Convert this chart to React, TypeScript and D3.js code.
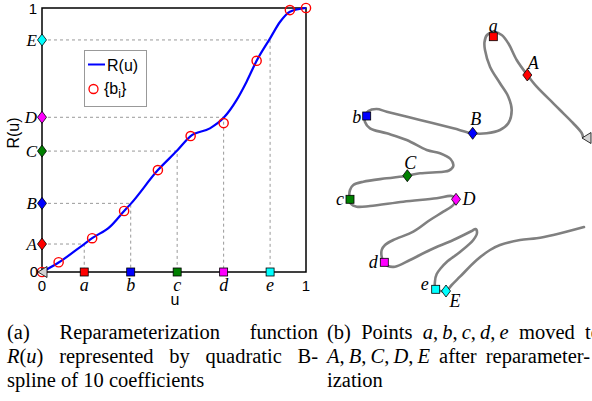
import React, { useLayoutEffect, useRef } from 'react';
import * as d3 from 'd3';

// ---- Left panel data: R(u) ----
const curveU = [0, 0.063, 0.16, 0.19, 0.258, 0.311, 0.336, 0.439, 0.512, 0.563, 0.636, 0.688, 0.7375, 0.775, 0.813, 0.864, 0.902, 0.939, 1];
const curveR = [0, 0.036, 0.106, 0.128, 0.172, 0.231, 0.258, 0.386, 0.46, 0.515, 0.544, 0.584, 0.652, 0.721, 0.8, 0.885, 0.948, 0.986, 1];
const coefU = [0, 0.063, 0.19, 0.311, 0.439, 0.563, 0.688, 0.813, 0.939, 1];
const coefR = [0, 0.037, 0.128, 0.231, 0.386, 0.515, 0.564, 0.8, 0.992, 1];
const lowerLabels = ['a', 'b', 'c', 'd', 'e'];
const upperLabels = ['A', 'B', 'C', 'D', 'E'];
const markU = [0.16, 0.336, 0.512, 0.688, 0.864];
const markR = [0.106, 0.26, 0.458, 0.586, 0.879];
const tickLabels = ['0', '1'];

// ---- Right panel data: curve in plane (x offset coords, y) ----
const pathX = [263, 261.7, 253, 240, 233.3, 216.7, 207.3, 196.7, 188.3, 181.7, 174, 167, 164.5, 165, 170, 180, 188.3, 191.7, 188.3, 180, 166.7, 152.7, 133.3, 100, 66.7, 56.7, 48.3, 45, 45, 50, 66.7, 86.7, 106.7, 120, 130.5, 133.3, 129, 123.3, 100, 87.3, 66.7, 43.3, 33.3, 30, 29.5, 31, 36.7, 50, 83.3, 116.7, 131.7, 136, 133.3, 123.3, 110, 93.3, 73.3, 65, 61.7, 62, 64.3, 68, 75, 90, 110, 133.3, 151.7, 155.5, 157, 153.3, 140, 126.7, 121, 116.7, 115, 115.7, 126, 131.7, 140, 156.7, 170, 180, 200, 216.7, 233.3, 264];
const pathY = [137, 133, 123, 110, 103.3, 86.7, 75, 60, 43.3, 35, 32, 35, 42, 50, 66.7, 83.3, 96.7, 110, 123.3, 130, 133.3, 133.3, 128.3, 120, 111.7, 109, 111, 116, 122, 128.3, 133.3, 140, 150, 153.3, 159, 166, 170.5, 171.7, 173.3, 175.7, 178.3, 181.7, 185, 190, 199.3, 204, 206.7, 206, 201.7, 198.3, 196, 199.3, 205, 211.7, 220, 231.7, 240, 245, 250, 258, 262.3, 266, 266.7, 260, 250, 240, 231, 229, 233, 240, 252, 262, 268, 274, 281, 289, 291, 285, 276.7, 260, 250, 245, 240, 238.3, 235, 227];
const lowerX = [173.3, 46.7, 30, 64.3, 115.7];
const lowerY = [36.7, 116, 199.3, 262.3, 289.3];
const upperX = [207.3, 152.7, 87.3, 136, 126];
const upperY = [75, 133.3, 175.7, 199.3, 291];

const colors = ['#ff0000', '#0000ff', '#008000', '#ff00ff', '#00ffff'];
const lowerOff = [[0, -5], [-10, 7], [-10, 6], [-11, 6], [-11, 1]];
const upperOff = [[6, -6], [3, -8], [3, -7], [13, 6], [9, 16]];

const SERIF = '"Liberation Serif", "Times New Roman", serif';
const SANS = '"Liberation Sans", Arial, sans-serif';

type Seg = [string, boolean];
type Word = Seg[];

function JustLine({ x, y, width, words, justify, size }: { x: number; y: number; width: number; words: Word[]; justify: boolean; size: number }) {
  const ref = useRef<SVGGElement>(null);
  useLayoutEffect(() => {
    const g = ref.current;
    if (!g) return;
    const texts = Array.from(g.querySelectorAll('text')) as SVGTextElement[];
    const widths = texts.map((t) => t.getComputedTextLength());
    const total = widths.reduce((a, b) => a + b, 0);
    const gap = justify && texts.length > 1 ? (width - total) / (texts.length - 1) : size * 0.25;
    let cx = x;
    texts.forEach((t, i) => {
      t.setAttribute('x', String(cx));
      cx += widths[i] + gap;
    });
  }, []);
  return (
    <g ref={ref}>
      {words.map((w, i) => (
        <text key={i} x={x} y={y} fontFamily={SERIF} fontSize={size} fill="#000">
          {w.map((s, j) => (
            <tspan key={j} fontStyle={s[1] ? 'italic' : 'normal'}>{s[0]}</tspan>
          ))}
        </text>
      ))}
    </g>
  );
}

const n = (t: string): Word => [[t, false]];
const capSize = 20.5;
const leftLines: { words: Word[]; justify: boolean; width: number }[] = [
  { words: [n('(a)'), n('Reparameterization'), n('function')], justify: true, width: 311 },
  { words: [[['R', true], ['(', false], ['u', true], [')', false]], n('represented'), n('by'), n('quadratic'), n('B-')], justify: true, width: 311 },
  { words: [n('spline'), n('of'), n('10'), n('coefficients')], justify: false, width: 311 },
];
const rightLines: { words: Word[]; justify: boolean; width: number }[] = [
  { words: [n('(b)'), n('Points'), [['a', true], [',\u2009', false], ['b', true], [',\u2009', false], ['c', true], [',\u2009', false], ['d', true], [',\u2009', false], ['e', true]], n('moved'), n('to')], justify: true, width: 274 },
  { words: [[['A', true], [',\u2009', false], ['B', true], [',\u2009', false], ['C', true], [',\u2009', false], ['D', true], [',\u2009', false], ['E', true]], n('after'), n('reparameter-')], justify: true, width: 263 },
  { words: [n('ization')], justify: false, width: 263 },
];

function diamond(cx: number, cy: number, w = 9, h = 12) {
  return `M${cx},${cy - h / 2}L${cx + w / 2},${cy}L${cx},${cy + h / 2}L${cx - w / 2},${cy}Z`;
}
function triLeft(tipX: number, cy: number, w = 9, h = 11) {
  return `M${tipX},${cy}L${tipX + w},${cy - h / 2}L${tipX + w},${cy + h / 2}Z`;
}

export default function App() {
  const xL = d3.scaleLinear().domain([0, 1]).range([42, 306]);
  const yL = d3.scaleLinear().domain([0, 1]).range([272, 8]);
  const xR = d3.scaleLinear().domain([0, 272]).range([320, 592]);
  const yR = d3.scaleLinear().domain([0, 401]).range([0, 401]);

  const curvePts = curveU.map((u, i) => [u, curveR[i]] as [number, number]);
  const lineL = d3.line<[number, number]>().x((d) => xL(d[0])).y((d) => yL(d[1])).curve(d3.curveMonotoneX);
  const pathPts = pathX.map((x, i) => [x, pathY[i]] as [number, number]);
  const lineR = d3.line<[number, number]>().x((d) => xR(d[0])).y((d) => yR(d[1])).curve(d3.curveCatmullRom.alpha(0.5));

  return (
    <svg width={592} height={401} style={{ position: 'absolute', left: 0, top: 0, background: '#fff' }}>
      <rect x={0} y={0} width={592} height={401} fill="#fff" />
      {/* guide lines */}
      {markU.map((u, i) => (
        <path key={i} d={`M${xL(0)},${yL(markR[i])}H${xL(u)}V${yL(0)}`} fill="none" stroke="#999" strokeWidth={1} strokeDasharray="3,3" />
      ))}
      {/* box */}
      <rect x={xL(0)} y={yL(1)} width={xL(1) - xL(0)} height={yL(0) - yL(1)} fill="none" stroke="#000" strokeWidth={1.5} />
      {/* curve */}
      <path d={lineL(curvePts) || ''} fill="none" stroke="#0000ff" strokeWidth={2.2} />
      {coefU.map((u, i) => (
        <circle key={i} cx={xL(u)} cy={yL(coefR[i])} r={4.6} fill="none" stroke="#ff0000" strokeWidth={1.4} />
      ))}
      {/* tick labels */}
      <text x={xL(0) - 4} y={yL(0) + 5} textAnchor="end" fontFamily={SANS} fontSize={15}>{tickLabels[0]}</text>
      <text x={xL(0) - 5} y={yL(1) + 6} textAnchor="end" fontFamily={SANS} fontSize={15}>{tickLabels[1]}</text>
      <text x={xL(0)} y={yL(0) + 19} textAnchor="middle" fontFamily={SANS} fontSize={15}>{tickLabels[0]}</text>
      <text x={xL(1)} y={yL(0) + 19} textAnchor="middle" fontFamily={SANS} fontSize={15}>{tickLabels[1]}</text>
      <text x={175} y={305} textAnchor="middle" fontFamily={SANS} fontSize={16}>u</text>
      <text transform="translate(19,133) rotate(-90)" textAnchor="middle" fontFamily={SANS} fontSize={16}>R(u)</text>
      {/* markers */}
      {markU.map((u, i) => (
        <g key={i}>
          <rect x={xL(u) - 4} y={yL(0) - 4} width={8} height={8} fill={colors[i]} stroke="#000" strokeWidth={0.8} />
          <text x={xL(u)} y={yL(0) + 19} textAnchor="middle" fontFamily={SERIF} fontStyle="italic" fontSize={18}>{lowerLabels[i]}</text>
          <path d={diamond(xL(0), yL(markR[i]))} fill={colors[i]} stroke="#000" strokeWidth={0.8} />
          <text x={xL(0) - 5} y={yL(markR[i]) + 6} textAnchor="end" fontFamily={SERIF} fontStyle="italic" fontSize={17}>{upperLabels[i]}</text>
        </g>
      ))}
      <path d={triLeft(xL(0) - 4, yL(0))} fill="#d3d3d3" stroke="#000" strokeWidth={0.8} />
      {/* legend */}
      <rect x={84.5} y={50.5} width={62} height={56} fill="#fff" stroke="#999" strokeWidth={1} />
      <line x1={88} x2={105} y1={64.5} y2={64.5} stroke="#0000ff" strokeWidth={2} />
      <text x={107} y={70.5} fontFamily={SANS} fontSize={16}>R(u)</text>
      <circle cx={93.5} cy={89} r={4.5} fill="none" stroke="#ff0000" strokeWidth={1.3} />
      <text x={104} y={94} fontFamily={SANS} fontSize={16}>
        {'{b'}<tspan fontSize={12} dy={4}>i</tspan><tspan dy={-4}>{'}'}</tspan>
      </text>

      {/* right panel */}
      <path d={lineR(pathPts) || ''} fill="none" stroke="#808080" strokeWidth={2.6} strokeLinecap="round" strokeLinejoin="round" />
      <path d={triLeft(xR(pathX[0]) - 1, yR(pathY[0]) + 1, 9, 11)} fill="#d3d3d3" stroke="#000" strokeWidth={0.8} />
      {lowerX.map((x, i) => (
        <g key={i}>
          <rect x={xR(x) - 4} y={yR(lowerY[i]) - 4} width={8} height={8} fill={colors[i]} stroke="#000" strokeWidth={0.8} />
          <text x={xR(x) + lowerOff[i][0]} y={yR(lowerY[i]) + lowerOff[i][1]} textAnchor="middle" fontFamily={SERIF} fontStyle="italic" fontSize={18}>{lowerLabels[i]}</text>
        </g>
      ))}
      {upperX.map((x, i) => (
        <g key={i}>
          <path d={diamond(xR(x), yR(upperY[i]))} fill={colors[i]} stroke="#000" strokeWidth={0.8} />
          <text x={xR(x) + upperOff[i][0]} y={yR(upperY[i]) + upperOff[i][1]} textAnchor="middle" fontFamily={SERIF} fontStyle="italic" fontSize={18}>{upperLabels[i]}</text>
        </g>
      ))}

      {/* captions */}
      {leftLines.map((l, i) => (
        <JustLine key={i} x={7} y={339 + i * 24} width={l.width} words={l.words} justify={l.justify} size={capSize} />
      ))}
      {rightLines.map((l, i) => (
        <JustLine key={i} x={327} y={339 + i * 24} width={l.width} words={l.words} justify={l.justify} size={capSize} />
      ))}
    </svg>
  );
}
